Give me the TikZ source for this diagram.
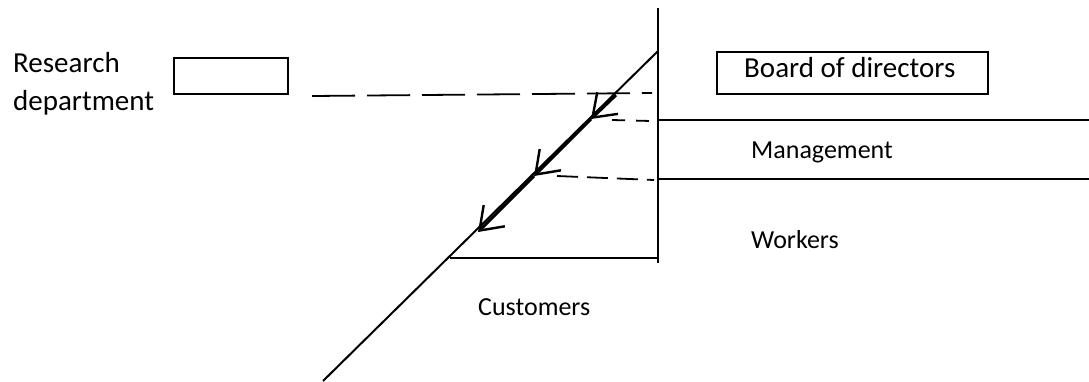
\documentclass[tikz,border=0pt]{standalone}
\usepackage{fontspec}
\setmainfont{Carlito}
\usetikzlibrary{arrows.meta}
\begin{document}
\begin{tikzpicture}[x=1pt,y=-1pt,
  ln/.style={line width=2pt},
  thk/.style={line width=3pt},
  barb/.style={-{Straight Barb[length=21pt,width=30pt,line width=2.4pt]}},
  lbl/.style={inner sep=0pt,anchor=base west},
  big/.style={font=\fontsize{29}{34}\selectfont},
  small/.style={font=\fontsize{26}{30}\selectfont},
  boxst/.style={draw,line width=1.5pt,inner sep=0pt}]
\useasboundingbox (0,0) rectangle (1089,381);
% coordinates
\coordinate (vtop) at (658,8);
\coordinate (vbot) at (658,263);
\coordinate (dtop) at (658,51);
\coordinate (dbot) at (323,381);
\coordinate (t0) at (616,95);
\coordinate (a1) at (591,119);
\coordinate (a2) at (534,176);
\coordinate (a3) at (478,232);
\coordinate (cL) at (450,258);
\coordinate (cR) at (658,258);
\coordinate (m1L) at (658,120);
\coordinate (m1R) at (1089,120);
\coordinate (m2L) at (658,179);
\coordinate (m2R) at (1089,179);
% boxes
\node[boxst,minimum width=114pt,minimum height=36pt] (rbox) at (231,76) {};
\node[boxst,minimum width=271pt,minimum height=42pt] (bbox) at (852.5,73) {};
% lines
\draw[ln] (vtop) -- (vbot);
\draw[ln] (dtop) -- (dbot);
\draw[ln] (cL) -- (cR);
\draw[ln] (m1L) -- (m1R);
\draw[ln] (m2L) -- (m2R);
\draw[thk,barb] (t0) -- (a1);
\draw[thk,barb] (a1) -- (a2);
\draw[thk,barb] (a2) -- (a3);
% dashed
\coordinate (d1a) at (312,96);
\coordinate (d1b) at (652,93);
\coordinate (d2a) at (612,120);
\coordinate (d2b) at (651,121);
\coordinate (d3a) at (557,176);
\coordinate (d3b) at (654,180);
\draw[line width=1.8pt,dash pattern=on 43pt off 12pt] (d1a) -- (d1b);
\draw[line width=1.8pt,dash pattern=on 13pt off 11pt] (d2a) -- (d2b);
\draw[line width=1.8pt,dash pattern=on 21pt off 9pt] (d3a) -- (d3b);
% texts
\node[lbl,big] (research) at (13,72) {Research};
\node[lbl,big] (dept) at (13,110) {department};
\node[lbl,big] (board) at (744,77) {Board of directors};
\node[lbl,small] (mgmt) at (751,158) {Management};
\node[lbl,small] (work) at (751,248) {Workers};
\node[lbl,small] (cust) at (478,315) {Customers};
\end{tikzpicture}
\end{document}
